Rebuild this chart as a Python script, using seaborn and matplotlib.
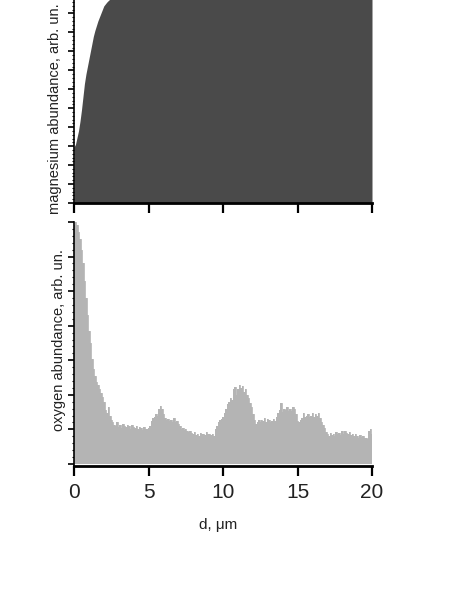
import numpy as np
import pandas as pd
import matplotlib
matplotlib.use("Agg")
import matplotlib.pyplot as plt
from matplotlib.ticker import MultipleLocator
import seaborn as sns

# ---------------- data ----------------
d_oxygen = [round(0.1 * i, 1) for i in range(201)]
oxygen = [
    3.45, 3.50, 3.46, 3.35, 3.25, 3.10, 2.90, 2.65, 2.40, 2.15,
    1.92, 1.75, 1.52, 1.38, 1.27, 1.18, 1.14, 1.08, 1.02, 0.97,
    0.90, 0.78, 0.74, 0.82, 0.70, 0.64, 0.60, 0.57, 0.55, 0.60,
    0.54, 0.57, 0.52, 0.58, 0.55, 0.53, 0.57, 0.55, 0.50, 0.56,
    0.53, 0.52, 0.55, 0.50, 0.54, 0.52, 0.49, 0.53, 0.51, 0.50,
    0.52, 0.55, 0.62, 0.66, 0.68, 0.72, 0.70, 0.80, 0.84, 0.80,
    0.72, 0.66, 0.63, 0.65, 0.62, 0.64, 0.61, 0.66, 0.60, 0.62,
    0.58, 0.55, 0.50, 0.52, 0.49, 0.50, 0.47, 0.46, 0.48, 0.45,
    0.44, 0.46, 0.42, 0.44, 0.41, 0.45, 0.43, 0.44, 0.42, 0.46,
    0.43, 0.44, 0.42, 0.43, 0.41, 0.50, 0.55, 0.60, 0.63, 0.65,
    0.68, 0.74, 0.80, 0.86, 0.90, 0.95, 0.92, 1.08, 1.12, 1.00,
    1.08, 1.14, 1.10, 1.13, 1.04, 1.08, 1.00, 0.95, 0.88, 0.82,
    0.72, 0.64, 0.58, 0.60, 0.63, 0.60, 0.64, 0.62, 0.66, 0.61,
    0.65, 0.63, 0.60, 0.62, 0.65, 0.62, 0.68, 0.74, 0.78, 0.88,
    0.75, 0.80, 0.78, 0.82, 0.76, 0.80, 0.77, 0.83, 0.79, 0.72,
    0.62, 0.60, 0.64, 0.66, 0.74, 0.68, 0.70, 0.72, 0.68, 0.70,
    0.73, 0.68, 0.72, 0.70, 0.74, 0.66, 0.60, 0.57, 0.52, 0.46,
    0.43, 0.40, 0.45, 0.42, 0.44, 0.41, 0.46, 0.43, 0.45, 0.42,
    0.47, 0.44, 0.48, 0.45, 0.43, 0.46, 0.42, 0.44, 0.40, 0.43,
    0.41, 0.38, 0.42, 0.39, 0.40, 0.37, 0.38, 0.36, 0.47, 0.50,
    0.44,
]

d_magnesium = [0.0, 0.1, 0.2, 0.3, 0.4, 0.5, 0.6, 0.7, 0.8, 0.9,
               1.0, 1.1, 1.2, 1.3, 1.4, 1.5, 1.6, 1.7, 1.8, 1.9,
               2.0, 2.1, 2.2, 2.3, 2.4, 2.5, 3.0, 5.0, 10.0, 15.0, 20.0]
magnesium = [2.95, 3.10, 3.45, 3.80, 4.30, 4.90, 5.60, 6.30, 6.80, 7.20,
             7.60, 8.00, 8.40, 8.80, 9.10, 9.35, 9.60, 9.80, 10.00, 10.20,
             10.40, 10.50, 10.60, 10.68, 10.75, 10.90, 11.30, 11.50, 11.50, 11.50, 11.50]

x_ticks = [0, 5, 10, 15, 20]
x_label = "d, \u03bcm"
mg_label = "magnesium abundance, arb. un."
ox_label = "oxygen abundance, arb. un."

# ---------------- style ----------------
sns.set_style("ticks")
plt.rcParams["font.family"] = ["Liberation Sans", "DejaVu Sans"]

W, H = 457, 591
fig = plt.figure(figsize=(W / 100, H / 100), dpi=100)

def fx(px):
    return px / W

def fy(py):
    return 1 - py / H

left, right = 74, 372
# bottom panel: y pixels 222..466
ax2 = fig.add_axes([fx(left), fy(466), fx(right - left), fy(222) - fy(466)])
# top panel: bottom at y=203, extends above the figure
mg_ylim = (0, 11.2)
px_per_unit = 18.95
ax1 = fig.add_axes([fx(left), fy(203), fx(right - left), mg_ylim[1] * px_per_unit / H])

df_mg = pd.DataFrame({"d": d_magnesium, "v": magnesium})
df_ox = pd.DataFrame({"d": d_oxygen, "v": oxygen})

mg_color = "#4a4a4a"
ox_color = "#b4b4b4"

ax1.fill_between(df_mg["d"], 0, df_mg["v"], color=mg_color, lw=0)
ax2.fill_between(df_ox["d"], 0, df_ox["v"], step="mid", color=ox_color, lw=0)
sns.lineplot(data=df_ox, x="d", y="v", ax=ax2, color=ox_color, lw=0.6, drawstyle="steps-mid")

for ax in (ax1, ax2):
    ax.set_xlim(0, 20)
    ax.set_xticks(x_ticks)
    for s in ("top", "right"):
        ax.spines[s].set_visible(False)
    ax.spines["bottom"].set_linewidth(2.0)
    ax.spines["left"].set_linewidth(1.2)
    ax.spines["bottom"].set_color("black")
    ax.spines["left"].set_color("black")
    ax.tick_params(axis="x", direction="out", length=7.5, width=1.6, color="black")
    ax.tick_params(axis="y", which="major", direction="out", length=4.5, width=1.2,
                   color="black", labelleft=False)
    ax.tick_params(axis="y", which="minor", direction="out", length=1.6, width=0.8,
                   color="black")
    ax.set_facecolor("white")

ax1.set_ylim(*mg_ylim)
ax1.yaxis.set_major_locator(MultipleLocator(1))
ax1.yaxis.set_minor_locator(MultipleLocator(0.2))
ax1.tick_params(axis="x", labelbottom=False)
ax1.set_xlabel("")
ax1.set_ylabel(mg_label, fontsize=10.5, color="#222222")
ax1.yaxis.set_label_coords(-0.04, 0.443)

ax2.set_ylim(-0.03, 3.5)
ax2.yaxis.set_major_locator(MultipleLocator(0.5))
ax2.yaxis.set_minor_locator(MultipleLocator(0.1))
ax2.tick_params(axis="x", labelsize=15, pad=4.5, labelcolor="#222222")
ax2.set_xlabel(x_label, fontsize=11, color="#222222")
ax2.xaxis.set_label_coords(0.482, -0.215)
ax2.set_ylabel(ox_label, fontsize=10.5, color="#222222")
ax2.yaxis.set_label_coords(-0.027, 0.516)

fig.savefig("out.png", dpi=100, facecolor="white")
